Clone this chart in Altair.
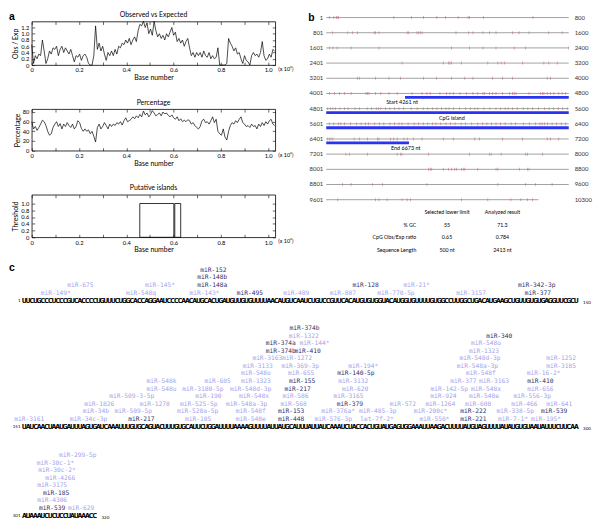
import altair as alt
import pandas as pd

SANS = "Lato"
BOLD = "Liberation Sans"
MONO = "DejaVu Sans Mono"
NARROW = "Liberation Sans Narrow, DejaVu Sans Condensed, Lato"
RED = "#c05a68"
GRAY = "#8a8a8a"
BLUE = "#2a34f0"
DARK = "#2e2f6b"
LIGHT = "#a3a3ea"

# ---------------- panel a data ----------------
step_bases = 75
obs_exp = [
    0.65, 0.05, 0.30, 0.20, 0.35, 0.30, 0.80, 0.45, 0.05, 0.20,
    0.45, 0.35, 0.55, 0.50, 0.60, 0.30, 0.50, 0.60, 0.40, 0.55,
    0.45, 0.35, 0.50, 0.30, 0.10, 0.30, 0.25, 0.35, 0.15, 0.30,
    0.35, 0.25, 0.05, 0.00, 0.00, 0.30, 1.25, 0.50, 0.70, 0.45,
    0.60, 0.35, 0.15, 0.40, 0.30, 0.45, 0.30, 0.50, 0.35, 0.60,
    0.55, 0.70, 0.65, 0.80, 0.70, 0.85, 0.65, 0.80, 0.90, 0.75,
    1.10, 1.30, 1.25, 1.40, 1.20, 1.35, 1.00, 1.15, 0.95, 1.40,
    1.10, 0.90, 1.00, 0.85, 0.95, 0.80, 1.00, 0.90, 1.05, 1.20,
    0.95, 1.05, 0.75, 0.85, 0.70, 0.80, 0.60, 0.75, 0.85, 0.55,
    0.30, 0.40, 0.25, 0.40, 0.30, 0.40, 0.25, 0.45, 0.30, 0.25,
    0.40, 0.20, 0.30, 0.20, 0.25, 0.55, 0.00, 0.00, 0.00, 0.00,
    0.05, 0.85, 0.70, 0.60, 0.45, 0.55, 0.35, 0.40, 0.20, 0.05,
    0.30, 0.15, 0.10, 0.00, 0.30, 0.40, 0.30, 0.35, 0.25, 0.40,
    0.75, 0.30, 0.15, 0.20, 0.35, 0.25, 0.50, 0.45,
]
gc_percent = [
    60, 45, 50, 42, 48, 55, 63, 60, 52, 40,
    32, 35, 48, 55, 60, 50, 56, 45, 55, 50,
    58, 52, 48, 55, 45, 50, 62, 58, 46, 40,
    45, 40, 43, 35, 40, 30, 18, 48, 55, 45,
    50, 58, 52, 45, 55, 50, 55, 52, 58, 55,
    60, 53, 62, 68, 60, 62, 65, 70, 66, 72,
    68, 75, 70, 82, 74, 78, 70, 75, 83, 78,
    72, 75, 78, 72, 80, 76, 78, 73, 70, 74,
    68, 65, 70, 62, 66, 60, 63, 60, 64, 62,
    55, 58, 52, 48, 45, 50, 62, 65, 58, 60,
    55, 62, 70, 58, 65, 40, 35, 32, 45, 28,
    22, 40, 52, 58, 55, 62, 58, 65, 70, 58,
    55, 50, 52, 48, 55, 50, 52, 45, 55, 50,
    58, 52, 60, 55, 62, 65, 55, 52,
]
island_start = [4570, 6050]
island_end = [6010, 6300]
island_threshold = [1.0, 1.0]

# ---------------- panel b data ----------------
row_starts = [1, 801, 1601, 2401, 3201, 4001, 4801, 5601, 6401, 7201, 8001, 8801, 9601]
row_ends = [800, 1600, 2400, 3200, 4000, 4800, 5600, 6400, 7200, 8000, 8800, 9600, 10300]
cpg_offsets = [
    [11, 25, 33, 36, 40, 223, 281, 321, 365, 394, 435, 468, 473, 519, 682],
    [20, 71, 87, 103, 158, 163, 174, 267, 272, 299, 305, 310, 316, 428, 470, 484, 517, 539, 560, 615, 636, 669, 734, 778],
    [11, 22, 36, 82, 174, 413, 473, 517, 560, 620, 658, 799],
    [250, 386, 403, 408, 413, 446, 533, 566, 577, 588, 647, 718, 734, 762],
    [103, 109, 163, 207, 245, 321, 364, 413, 457, 484, 549, 582, 615, 729, 740],
    [11, 27, 44, 60, 82, 131, 136, 141, 163, 180, 207, 234, 283, 316, 332, 343, 375, 397, 408, 419, 441, 462,
     484, 500, 517, 522, 539, 549, 560, 582, 604, 615, 620, 626, 669, 707, 713, 718, 729, 740, 751, 767, 778, 789],
    [5, 14, 22, 30, 45, 60, 72, 95, 110, 135, 150, 165, 172, 180, 195, 210, 225, 240, 255, 280, 300, 320, 335,
     350, 365, 380, 395, 405, 420, 440, 460, 475, 490, 500, 520, 540, 560, 575, 590, 600, 615, 630, 650, 665,
     680, 700, 720, 735, 750, 765, 780, 795],
    [10, 25, 40, 48, 60, 80, 100, 115, 130, 140, 160, 175, 190, 210, 225, 240, 250, 270, 290, 305, 320, 335,
     350, 362, 378, 395, 410, 425, 445, 460, 480, 500, 515, 530, 545, 560, 575, 590, 610, 625, 650, 670, 690,
     705, 712, 720, 730, 745, 760, 775, 790],
    [5, 11, 16, 22, 92, 109, 136, 169, 174, 212, 223, 234, 256, 267, 288, 316, 386, 419, 490, 506, 582, 648, 729, 740, 767],
    [65, 76, 136, 234, 245, 250, 337, 473, 539, 544, 577, 658, 664, 713],
    [337, 343, 348, 386, 403, 413, 424, 430, 446, 452, 457, 500, 560, 566, 637, 664, 669],
    [54, 82, 152, 185, 332, 566, 658, 691, 745],
    [38, 163, 174, 201, 250, 267, 278, 446, 533, 609, 642, 664, 680],
]
cpg_island = [4261, 6673]
island_labels = ["Start 4261 nt", "CpG island", "End 6673 nt"]
island_label_pos = [4261, 5225, 6673]
table_keys = ["h", "gc", "ratio", "len"]
table_rows = ["", "% GC", "CpG Obs/Exp ratio", "Sequence Length"]
table_lower = ["Selected lower limit", "55", "0.65", "500 nt"]
table_result = ["Analyzed result", "71.3", "0.784", "2413 nt"]

# ---------------- panel c data ----------------
seq1 = ("UUCUGCCCUC" "CCGUCACCCC" "UGUUUCUGGC" "ACCAGGAAUC" "CCCAACAUGC" "ACUGAUGUUG"
        "UGUUUUAACA" "UGUCAAUCUG" "UCCGUUCACA" "UGUGUGGUAC" "AUGGUGUUUU" "GUGGCCUUGG"
        "CUGACAUGAA" "GCUGUUGUGU" "GAGGUUCGCU")
seq2 = ("UAUCAACUAA" "UGAUUUAGUG" "AUCAAAUUUG" "UGCAGUACUU" "UGUGCAUUCU" "GGAUUUUAAA"
        "AGUUUUAUUA" "UGCAUUUAUU" "AUCAAAUCUA" "CCACUGUAUG" "AGUGGAAAUU" "AAGACUUUUA"
        "UGUAGUUUUA" "UAUGUGUAAU" "AUUUCUUCAA")
seq3 = "AUAAAUCUCUCCUAUAAACC"

r1_names = ["miR-149*", "miR-548q", "miR-143*", "miR-495", "miR-489", "miR-887", "miR-770-5p", "miR-3157",
            "miR-377", "miR-675", "miR-145*", "miR-148a", "miR-128", "miR-21*", "miR-342-3p", "miR-148b",
            "miR-152"]
r1_levels = [1, 1, 1, 1, 1, 1, 1, 1, 1, 2, 2, 2, 2, 2, 2, 3, 4]
r1_pos = [9.5, 32.5, 49.6, 61.9, 74.4, 87, 101.3, 121.6, 139.6, 16.1, 37.6, 51.7, 93.1, 106.9, 139.3, 51.7, 52]
r1_dark = [0, 0, 0, 1, 0, 0, 0, 0, 1, 0, 0, 1, 1, 0, 1, 1, 1]

r2_names = [
    "miR-3161", "miR-34c-3p", "miR-217", "miR-105", "miR-548e", "miR-448", "miR-576-3p", "let-7f-2*",
    "miR-550*", "miR-221", "miR-7-1*", "miR-195*",
    "miR-34b", "miR-509-5p", "miR-520a-5p", "miR-548f", "miR-153", "miR-376a*", "miR-485-3p", "miR-200c*",
    "miR-222", "miR-338-5p", "miR-539",
    "miR-1826", "miR-1278", "miR-525-5p", "miR-548a-3p", "miR-568", "miR-379", "miR-572", "miR-1264",
    "miR-608", "miR-466", "miR-641",
    "miR-509-3-5p", "miR-190", "miR-548x", "miR-586", "miR-3165", "miR-924", "miR-548e", "miR-556-3p",
    "miR-548u", "miR-3180-5p", "miR-548d-3p", "miR-217", "miR-620", "miR-142-5p", "miR-548x", "miR-656",
    "miR-548k", "miR-605", "miR-1323", "miR-155", "miR-3132", "miR-377", "miR-3163", "miR-410",
    "miR-548o", "miR-655", "miR-140-5p", "miR-548f", "miR-16-2*",
    "miR-3133", "miR-369-3p", "miR-194*", "miR-548a-3p", "miR-3185",
    "miR-3163", "miR-1272", "miR-548d-3p", "miR-1252",
    "miR-374b", "miR-410", "miR-1323",
    "miR-374a", "miR-144*", "miR-548o",
    "miR-1322", "miR-340",
    "miR-374b",
]
r2_levels = ([1] * 12 + [2] * 11 + [3] * 11 + [4] * 8 + [5] * 8 + [6] * 8 + [7] * 5 + [8] * 5 + [9] * 4
             + [10] * 3 + [11] * 3 + [12] * 2 + [13])
r2_pos = [
    2.3, 18.3, 32.6, 47.9, 62.1, 73.0, 84.4, 96.2, 111.7, 122.2, 132.9, 141.8,
    20.3, 30.4, 47.8, 62.1, 73.0, 85.7, 96.4, 110.7, 122.2, 133.5, 144.0,
    21.2, 36.2, 48.1, 61.0, 73.7, 88.9, 103.2, 113.3, 123.5, 136.0, 145.4,
    30.0, 50.7, 63.0, 74.2, 88.5, 114.1, 125.1, 138.1,
    38.0, 49.2, 62.1, 74.8, 90.3, 115.7, 125.6, 140.3,
    38.0, 53.2, 63.5, 76.0, 89.8, 119.5, 127.8, 140.3,
    63.5, 75.7, 90.5, 124.2, 141.2,
    64.0, 75.5, 92.5, 123.3, 145.9,
    66.6, 74.6, 124.0, 145.9,
    70.2, 77.5, 125.1,
    70.2, 79.3, 125.6,
    76.4, 129.2,
    76.6,
]
r2_dark = [
    0, 0, 1, 0, 0, 1, 0, 0, 0, 1, 0, 0,
    0, 0, 0, 0, 1, 0, 0, 0, 1, 0, 1,
    0, 0, 0, 0, 0, 1, 0, 0, 0, 0, 0,
    0, 0, 0, 0, 0, 0, 0, 0,
    0, 0, 0, 1, 0, 0, 0, 0,
    0, 0, 0, 1, 0, 0, 0, 1,
    0, 0, 1, 0, 0,
    0, 0, 0, 0, 0,
    0, 0, 0, 0,
    1, 1, 0,
    1, 0, 0,
    0, 1,
    1,
]

r3_names = ["miR-539", "miR-629", "miR-4306", "miR-185", "miR-3175", "miR-4266", "miR-30c-2*", "miR-30c-1*",
            "miR-299-5p"]
r3_levels = [1, 1, 2, 3, 4, 5, 6, 7, 8]
r3_pos = [8.5, 16.3, 8.5, 9.6, 8.5, 10.7, 9.8, 9.4, 15.4]
r3_dark = [1, 0, 0, 1, 0, 0, 0, 0, 0]

# ======================= panel a =======================
a_df = pd.DataFrame({"idx": range(len(obs_exp)), "obs": obs_exp, "gc": gc_percent})
a_df["base"] = a_df["idx"] * step_bases
isl_df = pd.DataFrame({"s": island_start, "e": island_end, "thr": island_threshold})

X_TICKS = [0, 0.1, 0.2, 0.3, 0.4, 0.5, 0.6, 0.7, 0.8, 0.9, 1.0]
X_LABEL_EXPR = ("datum.value == 0 ? '0' : (round(datum.value * 10) % 2 == 0 ? "
                "format(datum.value, '.1f') : '')")
Y_DEC_EXPR = "datum.value == 0 ? '0' : format(datum.value, '.1f')"
xs = alt.Scale(domain=[0, 1.03], nice=False, zero=False)
A_W = 246
AX = dict(offset=-3, tickSize=3, domain=False, grid=False, tickColor="black", tickWidth=0.6)
LAB = dict(labelFontSize=5.8, titleFontSize=7, labelFont=SANS, titleFont=SANS, titleFontWeight="normal",
           labelColor="black", titleColor="black")


def a_plot(kind, mirror_data, xf, yf, ys, yvals, ytitle, title, height, yexpr, letter=None):
    xb = alt.Axis(orient="bottom", values=X_TICKS, labelExpr=X_LABEL_EXPR, title="Base number",
                  labelPadding=2, titlePadding=1, labelFlush=False, **AX, **LAB)
    xt = alt.Axis(orient="top", values=X_TICKS, labels=False, title=None, **AX)
    ykw = dict(orient="left", values=yvals, title=ytitle, labelPadding=3, titlePadding=2, **AX, **LAB)
    if yexpr:
        ykw["labelExpr"] = yexpr
    yl = alt.Axis(**ykw)
    yr = alt.Axis(orient="right", values=yvals, labels=False, title=None, **AX)
    if kind == "line":
        main = alt.Chart(a_df).transform_calculate(kb="datum.base / 10000").mark_line(
            color="black", strokeWidth=0.7).encode(
            x=alt.X(xf, scale=xs, axis=xb), y=alt.Y(yf, scale=ys, axis=yl))
        mirror = alt.Chart(mirror_data).transform_calculate(kb="datum.base / 10000")
    else:
        main = alt.Chart(isl_df).transform_calculate(
            skb="datum.s / 10000", ekb="datum.e / 10000", zero="0").mark_rect(
            fillOpacity=0, stroke="black", strokeWidth=0.8).encode(
            x=alt.X(xf, scale=xs, axis=xb), x2="ekb:Q",
            y=alt.Y("zero:Q", scale=ys, axis=yl), y2="thr:Q")
        mirror = alt.Chart(mirror_data).transform_calculate(skb="datum.s / 10000")
    mirror = mirror.mark_point(opacity=0).encode(
        x=alt.X(xf, scale=xs, axis=xt), y=alt.Y(yf, scale=ys, axis=yr))
    unit = alt.Chart(pd.DataFrame({"t": ["(x 10\u2074)"]})).mark_text(
        align="left", fontSize=5.5, font=SANS, color="black").encode(
        x=alt.value(A_W + 3), y=alt.value(height + 4), text="t:N")
    ttl = alt.Chart(pd.DataFrame({"t": [title]})).mark_text(
        fontSize=7, font=SANS, color="black").encode(
        x=alt.value(A_W / 2), y=alt.value(-6.5), text="t:N")
    layers = [main, mirror, unit, ttl]
    if letter:
        layers.append(alt.Chart(pd.DataFrame({"t": [letter]})).mark_text(
            fontSize=10.5, font=BOLD, fontWeight="bold", color="black").encode(
            x=alt.value(-20), y=alt.value(-4.5), text="t:N"))
    return alt.layer(*layers).resolve_axis(x="independent", y="independent").properties(
        width=A_W, height=height, view=alt.ViewBackground(stroke="black", strokeWidth=0.8))


p1 = a_plot("line", a_df, "kb:Q", "obs:Q", alt.Scale(domain=[0, 1.39], nice=False),
            [0, 0.2, 0.4, 0.6, 0.8, 1.0, 1.2], "Obs / Exp", "Observed  vs  Expected", 44, Y_DEC_EXPR, "a")
p2 = a_plot("line", a_df, "kb:Q", "gc:Q", alt.Scale(domain=[0, 86], nice=False),
            [0, 20, 40, 60, 80], "Percentage", "Percentage", 42, None)
p3 = a_plot("rect", isl_df, "skb:Q", "thr:Q", alt.Scale(domain=[0, 1.26], nice=False),
            [0, 0.2, 0.4, 0.6, 0.8, 1.0], "Threshold", "Putative islands", 43, Y_DEC_EXPR)

# ======================= panel b =======================
rows_df = pd.DataFrame({"row": range(len(row_starts)), "start": row_starts, "end": row_ends})
rows_df["len"] = rows_df["end"] - rows_df["start"] + 1
tick_rows, tick_offs = [], []
for r, offs in enumerate(cpg_offsets):
    for o in offs:
        tick_rows.append(r)
        tick_offs.append(o)
ticks_df = pd.DataFrame({"row": tick_rows, "off": tick_offs})
seg_rows, seg_lo, seg_hi = [], [], []
for r, (s, e) in enumerate(zip(row_starts, row_ends)):
    lo, hi = max(cpg_island[0], s), min(cpg_island[1], e)
    if lo <= hi:
        seg_rows.append(r)
        seg_lo.append(lo - s)
        seg_hi.append(hi - s + 1)
seg_df = pd.DataFrame({"row": seg_rows, "lo": seg_lo, "hi": seg_hi})
lab_rows = [next(i for i, (s, e) in enumerate(zip(row_starts, row_ends)) if s <= p <= e) for p in island_label_pos]
lab_df = pd.DataFrame({"t": island_labels, "row": lab_rows,
                       "off": [p - row_starts[r] for p, r in zip(island_label_pos, lab_rows)]})

xb_s = alt.Scale(domain=[0, 800], nice=False, zero=False)
yb_s = alt.Scale(domain=[0.26, 12.26], nice=False, zero=False, reverse=True)
B_W, B_H = 245, 184

b_lines_l = alt.Chart(rows_df).transform_calculate(x0="0").mark_rule(color=GRAY, strokeWidth=0.8).encode(
    x=alt.X("x0:Q", scale=xb_s, axis=None), x2="len:Q", y=alt.Y("row:Q", scale=yb_s, axis=None))
b_ticks = alt.Chart(ticks_df).mark_tick(orient="vertical", size=3, thickness=0.7, color=RED).encode(
    x=alt.X("off:Q", scale=xb_s, axis=None), y=alt.Y("row:Q", scale=yb_s, axis=None))
b_isl = alt.Chart(seg_df).mark_rule(color=BLUE, strokeWidth=2.8, yOffset=4).encode(
    x=alt.X("lo:Q", scale=xb_s, axis=None), x2="hi:Q", y=alt.Y("row:Q", scale=yb_s, axis=None))
b_isl_lab = alt.Chart(lab_df).mark_text(fontSize=5.5, font=SANS, color="black", dy=9, dx=-3).encode(
    x=alt.X("off:Q", scale=xb_s, axis=None), y=alt.Y("row:Q", scale=yb_s, axis=None), text="t:N")
b_left = alt.Chart(rows_df).transform_calculate(x0="0").mark_text(
    align="right", dx=-3, fontSize=6, font=SANS, color="#333333").encode(
    x=alt.X("x0:Q", scale=xb_s, axis=None), y=alt.Y("row:Q", scale=yb_s, axis=None), text="start:N")
b_right = alt.Chart(rows_df).transform_calculate(x8="800").mark_text(
    align="left", dx=6, fontSize=6, font=SANS, color="#333333").encode(
    x=alt.X("x8:Q", scale=xb_s, axis=None), y=alt.Y("row:Q", scale=yb_s, axis=None), text="end:N")
b_letter = alt.Chart(pd.DataFrame({"t": ["b"]})).mark_text(
    fontSize=10.5, font=BOLD, fontWeight="bold", color="black").encode(
    x=alt.value(-15), y=alt.value(-4), text="t:N")
b_lines = alt.layer(b_lines_l, b_ticks, b_isl, b_isl_lab, b_left, b_right, b_letter).properties(
    width=B_W, height=B_H)

tbl_df = pd.DataFrame({"key": table_keys, "label": table_rows, "lower": table_lower, "result": table_result})
yt = alt.Y("key:N", sort=table_keys, axis=None, scale=alt.Scale(paddingInner=0, paddingOuter=0))
tbl_base = alt.Chart(tbl_df)
b_table = alt.layer(
    tbl_base.mark_text(align="right", fontSize=5.3, font=SANS, color="black").encode(
        x=alt.value(91), y=yt, text="label:N"),
    tbl_base.mark_text(align="center", fontSize=5.3, font=SANS, color="black").encode(
        x=alt.value(122), y=yt, text="lower:N"),
    tbl_base.mark_text(align="center", fontSize=5.3, font=SANS, color="black").encode(
        x=alt.value(178), y=yt, text="result:N"),
).properties(width=B_W, height=51)

# ======================= panel c =======================
C_W = 552
LEVEL_PX = 7.6
xc_s = alt.Scale(domain=[3.0, 150.5], nice=False, zero=False)


def c_row(seq, first, names, levels, pos, dark, n_levels, letter=None):
    ys = alt.Scale(domain=[0, n_levels], nice=False, zero=False)
    seq_df = pd.DataFrame({"p": range(1, len(seq) + 1), "ch": list(seq)})
    seq_df["lv"] = 0
    mir_df = pd.DataFrame({"name": names, "lv": levels, "p": pos,
                           "kind": ["dark" if d else "light" for d in dark]})
    num_df = pd.DataFrame({"t": [str(first), str(first + len(seq) - 1)],
                           "p": [0.5, len(seq) + 0.5], "lv": [0, 0], "side": ["s", "e"]})
    X = alt.X("p:Q", scale=xc_s, axis=None)
    Y = alt.Y("lv:Q", scale=ys, axis=None)
    letters = alt.Chart(seq_df).mark_text(font=NARROW, fontWeight="bold", fontSize=7, dy=1,
                                          color="black").encode(x=X, y=Y, text="ch:N")
    mirs = alt.Chart(mir_df).mark_text(font=MONO, fontSize=6.3).encode(
        x=X, y=Y, text="name:N",
        color=alt.Color("kind:N", scale=alt.Scale(domain=["dark", "light"], range=[DARK, LIGHT]), legend=None))
    n_start = alt.Chart(num_df).transform_filter("datum.side == 's'").mark_text(
        align="right", dx=-2, dy=1, fontSize=4.5, font=SANS, color="black").encode(x=X, y=Y, text="t:N")
    n_end = alt.Chart(num_df).transform_filter("datum.side == 'e'").mark_text(
        align="left", dx=5, dy=2.5, fontSize=4.5, font=SANS, color="black").encode(x=X, y=Y, text="t:N")
    layers = [letters, mirs, n_start, n_end]
    if letter:
        layers.append(alt.Chart(pd.DataFrame({"t": [letter]})).mark_text(
            fontSize=10.5, font=BOLD, fontWeight="bold", color="black").encode(
            x=alt.value(-20), y=alt.value(-2), text="t:N"))
    return alt.layer(*layers).properties(width=C_W, height=n_levels * LEVEL_PX)


c1 = c_row(seq1, 1, r1_names, r1_levels, r1_pos, r1_dark, 4, "c")
c2 = c_row(seq2, 151, r2_names, r2_levels, r2_pos, r2_dark, 13)
c3 = c_row(seq3, 301, r3_names, r3_levels, r3_pos, r3_dark, 8)

# ======================= layout =======================
a_col = alt.vconcat(p1, p2, p3, spacing=16.5)
b_col = alt.vconcat(b_lines, b_table, spacing=0)
top = alt.hconcat(a_col, b_col, spacing=13.5)
c_block = alt.vconcat(c1, c2, c3, spacing=20)
chart = alt.vconcat(top, c_block, spacing=5).properties(padding=0).configure(
    font=SANS).configure_view(stroke="transparent")

chart.save("out.html", embed_options={"renderer": "svg", "actions": False})
